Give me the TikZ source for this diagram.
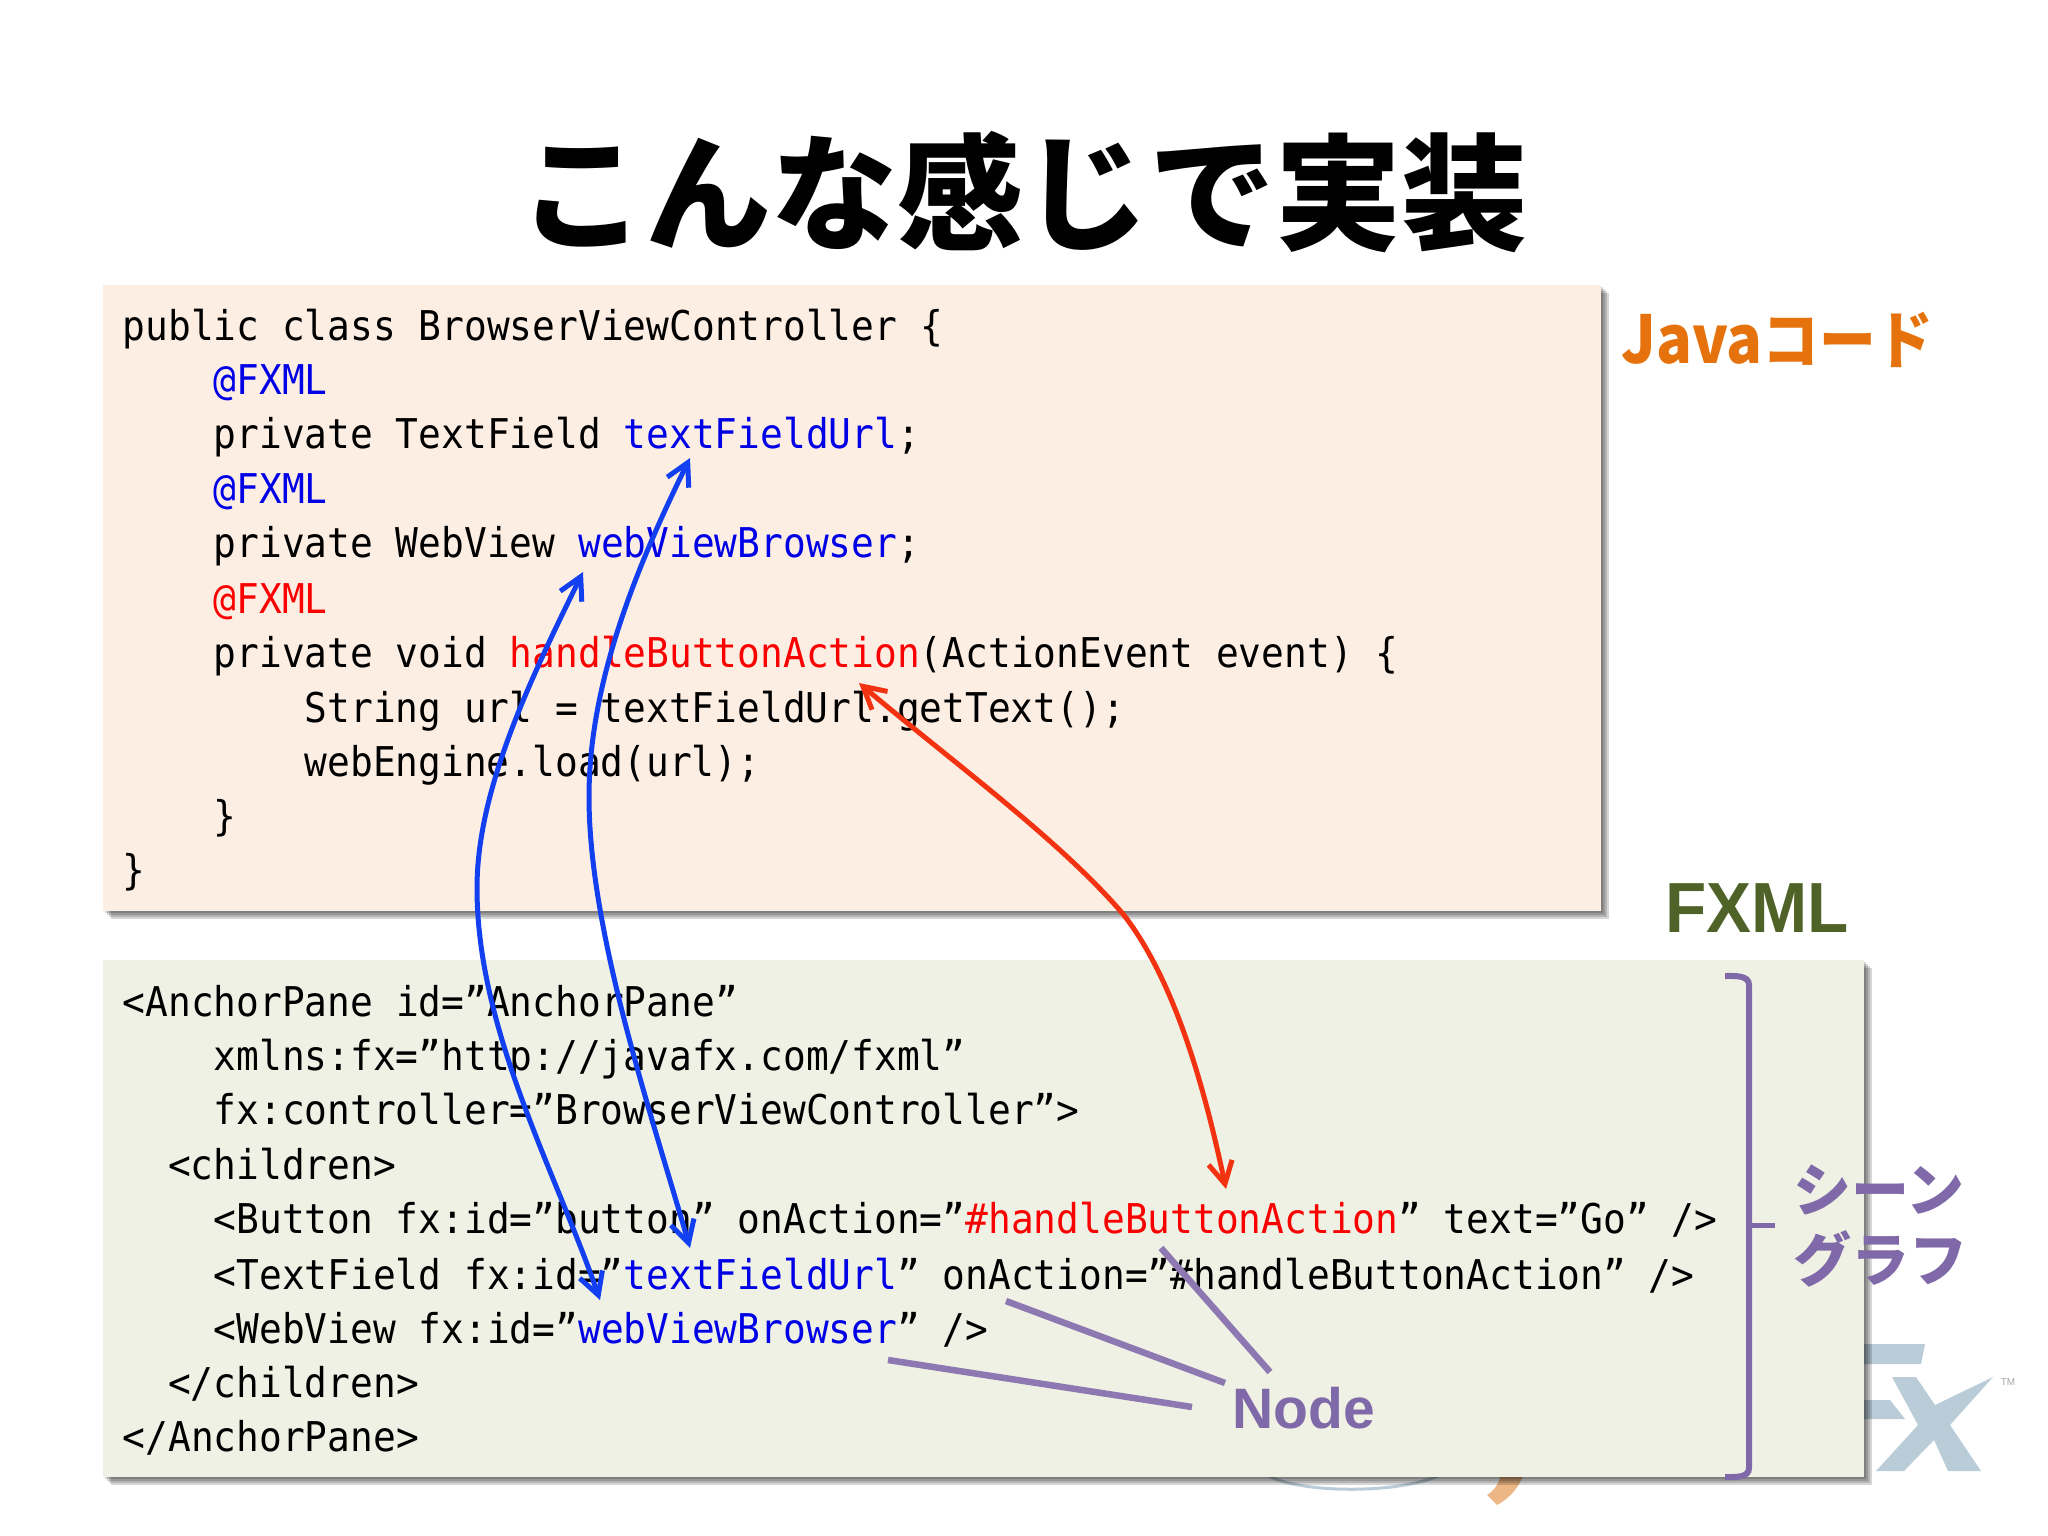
\documentclass[tikz,border=0pt]{standalone}
\usepackage{fontspec}
\usepackage{xcolor}
\setmainfont{Liberation Sans}
\setmonofont[FakeStretch=0.923]{DejaVu Sans Mono}
\newfontfamily\jpfont{Noto Sans CJK JP}
\newfontfamily\javafont[FakeStretch=0.9]{Noto Sans CJK JP}
\newfontfamily\fxmlfont[FakeStretch=0.95]{Liberation Sans}
\usetikzlibrary{arrows.meta, shadows}
\definecolor{javaback}{HTML}{FDEEE4}
\definecolor{fxmlback}{HTML}{EFF1E5}
\definecolor{codeblue}{HTML}{0000E6}
\definecolor{codered}{HTML}{FA0000}
\definecolor{linkblue}{HTML}{1240F0}
\definecolor{linkred}{HTML}{F23210}
\definecolor{nodepurple}{HTML}{8069A8}
\definecolor{javaorange}{HTML}{E5720C}
\definecolor{fxmlgreen}{HTML}{4F6228}
\definecolor{logoblue}{HTML}{B9CCD8}
\definecolor{logoorange}{HTML}{EDB785}
\tikzset{
  softshadow/.style={drop shadow={shadow xshift=#1pt, shadow yshift=-#1pt, fill=black, opacity=.16}},
  codebox/.style={anchor=north west, inner sep=0pt, softshadow=8, softshadow=6, softshadow=4, softshadow=2},
  codeline/.style={anchor=base west, inner sep=0pt, font=\ttfamily\fontsize{41}{41}\selectfont},
  linkarrow/.style={line width=5pt, {Straight Barb[length=22pt,width=24pt]}-{Straight Barb[length=22pt,width=24pt]}},
  nodeline/.style={line width=6.5pt, nodepurple!90}
}
\newcommand{\cb}[1]{\textcolor{codeblue}{#1}}
\newcommand{\cre}[1]{\textcolor{codered}{#1}}
\begin{document}
\begin{tikzpicture}[x=1pt,y=-1pt]
  \useasboundingbox (0,0) rectangle (2048,1536);
  % faded logo behind the boxes
  \fill[logoblue] (1850,1344) -- (1925,1344) -- (1921,1364) -- (1850,1364) -- cycle;
  \fill[logoblue] (1850,1400) -- (1890,1400) -- (1905,1419) -- (1850,1419) -- cycle;
  \fill[logoblue] (1892,1377) -- (1916,1377) -- (1935,1405) -- (1993,1377) -- (1950,1425) -- (1981,1471) -- (1948,1471) -- (1934,1440) -- (1904,1471) -- (1876,1471) -- (1918,1425) -- cycle;
  \node[inner sep=0pt, text=black!35, font=\fontsize{10}{10}\selectfont] (logotm) at (2008,1382) {TM};
  \draw[logoblue, line width=3pt] (1267,1475) .. controls (1300,1494) and (1400,1494) .. (1440,1475);
  \fill[logoorange] (1502,1470) -- (1525,1470) .. controls (1520,1487) and (1510,1498) .. (1497,1505) -- (1487,1495) .. controls (1495,1490) and (1500,1482) .. cycle;
  % title and side labels
  \node[inner sep=0pt, font=\jpfont\bfseries\fontsize{126}{126}\selectfont] (title) at (1023,192) {こんな感じで実装};
  \node[anchor=base west, inner sep=0pt, text=javaorange, font=\javafont\bfseries] (javalabel) at (1621,363) {\fontsize{66}{66}\selectfont Java\fontsize{63}{63}\selectfont コード};
  \node[anchor=base west, inner sep=0pt, text=fxmlgreen, font=\fxmlfont\bfseries\fontsize{71}{71}\selectfont] (fxmllabel) at (1665,932) {FXML};
  % boxes
  \node[codebox, fill=javaback, minimum width=1498pt, minimum height=626pt] (javabox) at (103,285) {};
  \node[codebox, fill=fxmlback, minimum width=1761pt, minimum height=517pt] (fxmlbox) at (103,960) {};
  % java code
  \node[codeline] (j1) at (122.5,340) {public class BrowserViewController \{};
  \node[codeline] (j2) at (213.5,394.4) {\cb{@FXML}};
  \node[codeline] (j3) at (213.5,448.8) {private TextField \cb{textFieldUrl};};
  \node[codeline] (j4) at (213.5,503.2) {\cb{@FXML}};
  \node[codeline] (j5) at (213.5,557.6) {private WebView \cb{webViewBrowser};};
  \node[codeline] (j6) at (213.5,613) {\cre{@FXML}};
  \node[codeline] (j7) at (213.5,667.4) {private void \cre{handleButtonAction}(ActionEvent event) \{};
  \node[codeline] (j8) at (304.5,722) {String url = textFieldUrl.getText();};
  \node[codeline] (j9) at (304.5,776) {webEngine.load(url);};
  \node[codeline] (j10) at (213.5,830.4) {\}};
  \node[codeline] (j11) at (122.5,884.5) {\}};
  % fxml code
  \node[codeline] (f1) at (122.5,1016) {<AnchorPane id=”AnchorPane”};
  \node[codeline] (f2) at (213.5,1070.4) {xmlns:fx=”http://javafx.com/fxml”};
  \node[codeline] (f3) at (213.5,1124.8) {fx:controller=”BrowserViewController”>};
  \node[codeline] (f4) at (168,1179.2) {<children>};
  \node[codeline] (f5) at (213.5,1233.6) {<Button fx:id=”button” onAction=”\cre{\#handleButtonAction}” text=”Go” />};
  \node[codeline] (f6) at (213.5,1289) {<TextField fx:id=”\cb{textFieldUrl}” onAction=”\#handleButtonAction” />};
  \node[codeline] (f7) at (213.5,1343) {<WebView fx:id=”\cb{webViewBrowser}” />};
  \node[codeline] (f8) at (168,1397) {</children>};
  \node[codeline] (f9) at (122.5,1451.2) {</AnchorPane>};
  % links between the two listings
  \coordinate (webtop) at (583,572);
  \coordinate (webbottom) at (600,1300);
  \coordinate (urltop) at (690,458);
  \coordinate (urlbottom) at (690,1248);
  \coordinate (actiontop) at (859,683);
  \coordinate (actionbottom) at (1226,1189);
  \draw[linkarrow, linkblue] (webtop) .. controls (530,680) and (477,790) .. (477,888) .. controls (477,1030) and (555,1170) .. (webbottom);
  \draw[linkarrow, linkblue] (urltop) .. controls (630,580) and (589,690) .. (589,797) .. controls (589,930) and (650,1110) .. (urlbottom);
  \draw[linkarrow, linkred] (actiontop) .. controls (950,760) and (1060,840) .. (1123,914) .. controls (1175,980) and (1205,1090) .. (actionbottom);
  % scene graph bracket and node pointers
  \draw[line width=6pt, nodepurple] (1725,976) .. controls (1735,976) and (1749,975) .. (1749,985) -- (1749,1468) .. controls (1749,1478) and (1735,1477) .. (1725,1477);
  \draw[line width=5pt, nodepurple] (1749,1225) -- (1775,1225);
  \node[anchor=west, inner sep=0pt, text=nodepurple, align=left, font=\jpfont\bfseries\fontsize{58}{70}\selectfont] (scenelabel) at (1793,1226) {シーン\\グラフ};
  \node[anchor=base west, inner sep=0pt, text=nodepurple, font=\bfseries\fontsize{57}{57}\selectfont] (nodelabel) at (1232,1428) {Node};
  \coordinate (nodeA) at (1161,1248);
  \coordinate (nodeB) at (1006,1301);
  \coordinate (nodeC) at (888,1360);
  \draw[nodeline] (nodeA) -- (1270,1372);
  \draw[nodeline] (nodeB) -- (1225,1383);
  \draw[nodeline] (nodeC) -- (1192,1407);
\end{tikzpicture}
\end{document}
